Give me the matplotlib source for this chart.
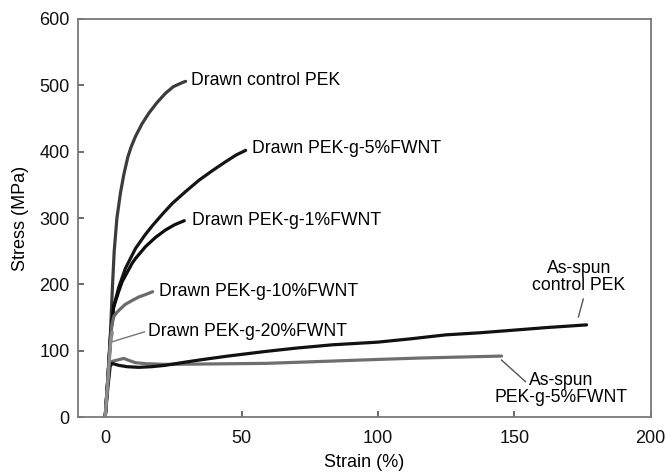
import matplotlib
matplotlib.use("Agg")
import matplotlib.pyplot as plt

plt.rcParams['font.family'] = ['Liberation Sans', 'DejaVu Sans']

# stress-strain curves: strain (%), stress (MPa)
drawn_ctrl_x = [0, 1.0, 1.9, 2.7, 3.3, 4.3, 5.6, 6.8, 8.3, 9.5, 11.1, 13.5, 16, 19, 22.1, 25, 28.2, 29.5]
drawn_ctrl_y = [0, 60, 125, 200, 250, 300, 338, 365, 392, 407, 423, 442, 458, 474, 488, 498, 504, 506]

drawn_5_x = [0, 1.0, 2.0, 3.1, 5.0, 7.4, 11.1, 14.5, 17.2, 21, 24.6, 29.5, 34.4, 39.5, 44.2, 48, 51.5]
drawn_5_y = [0, 60, 125, 166, 196, 224, 254, 274, 288, 306, 322, 340, 357, 372, 385, 395, 402]

drawn_1_x = [0, 1.0, 2.0, 3.1, 5.0, 6.2, 7.4, 9.9, 11.1, 14.8, 18.5, 22.1, 25.5, 29.0]
drawn_1_y = [0, 60, 125, 166, 190, 204, 213, 232, 239, 257, 271, 282, 290, 296]

drawn_10_x = [0, 1.0, 2.0, 2.5, 3.2, 4.3, 5.8, 7.4, 10, 12.3, 15, 17.4]
drawn_10_y = [0, 60, 120, 140, 152, 158, 164, 170, 176, 181, 185, 189]

drawn_20_x = [0, 1.0, 2.0, 2.6]
drawn_20_y = [0, 55, 112, 128]

spun_ctrl_x = [0, 1.0, 1.8, 2.5, 5, 8, 12.3, 17, 22, 28, 34.4, 45, 58.9, 70, 83.4, 100, 112, 125, 137, 149.6, 162, 176.5]
spun_ctrl_y = [0, 45, 76, 81, 78, 76, 75, 76, 78, 82, 86, 92, 99, 104, 109, 113, 118, 124, 127, 131, 135, 139]

spun_5_x = [0, 0.8, 1.5, 2.5, 4.5, 6.8, 9, 11.1, 15, 22, 35, 59, 80, 100.5, 115, 125, 135, 145.3]
spun_5_y = [0, 45, 78, 84, 86, 88.5, 85, 82, 80.5, 79.5, 80, 81, 84, 87, 89, 90, 91, 92]

fig = plt.figure(figsize=(6.66, 4.74), dpi=100)
ax = fig.add_axes([0.117, 0.12, 0.86, 0.84])

lw = 2.3
ax.plot(spun_5_x, spun_5_y, color='#6e6e6e', lw=lw, solid_capstyle='round')
ax.plot(spun_ctrl_x, spun_ctrl_y, color='#111111', lw=lw, solid_capstyle='round')
ax.plot(drawn_ctrl_x, drawn_ctrl_y, color='#3c3c3c', lw=lw, solid_capstyle='round')
ax.plot(drawn_5_x, drawn_5_y, color='#141414', lw=lw, solid_capstyle='round')
ax.plot(drawn_1_x, drawn_1_y, color='#0c0c0c', lw=lw, solid_capstyle='round')
ax.plot(drawn_10_x, drawn_10_y, color='#6a6a6a', lw=lw, solid_capstyle='round')
ax.plot(drawn_20_x, drawn_20_y, color='#8c8c8c', lw=lw, solid_capstyle='round')

fs = 12.7
ax.text(31.5, 508, 'Drawn control PEK', fontsize=fs, va='center', ha='left')
ax.text(53.7, 405, 'Drawn PEK-g-5%FWNT', fontsize=fs, va='center', ha='left')
ax.text(31.7, 297, 'Drawn PEK-g-1%FWNT', fontsize=fs, va='center', ha='left')
ax.text(19.7, 189, 'Drawn PEK-g-10%FWNT', fontsize=fs, va='center', ha='left')
ax.text(15.7, 129, 'Drawn PEK-g-20%FWNT', fontsize=fs, va='center', ha='left')
ax.plot([14.4, 2.5], [128.5, 113.5], color='#777777', lw=1.0)

ax.text(173.7, 211, 'As-spun\ncontrol PEK', fontsize=fs, va='center', ha='center',
        linespacing=1.0)
ax.plot([175.3, 173.5], [178, 151], color='#555555', lw=1.0)

ax.text(167, 42, 'As-spun\nPEK-g-5%FWNT', fontsize=fs, va='center', ha='center',
        linespacing=1.0)
ax.plot([154.1, 145.3], [53.5, 86], color='#555555', lw=1.0)

ax.set_xlim(-10, 200)
ax.set_ylim(0, 600)
ax.set_xticks([0, 50, 100, 150, 200])
ax.set_yticks([0, 100, 200, 300, 400, 500, 600])
ax.tick_params(direction='in', length=4, width=1.1, color='#444444',
               labelsize=13, labelcolor='#111111')
ax.tick_params(axis='x', pad=9)
ax.tick_params(axis='y', pad=6)
for s in ax.spines.values():
    s.set_color('#7a7a7a')
    s.set_linewidth(1.3)

ax.set_xlabel('Strain (%)', fontsize=13, labelpad=5)
ax.set_ylabel('Stress (MPa)', fontsize=13, labelpad=7)

fig.savefig('out.png', dpi=100)
